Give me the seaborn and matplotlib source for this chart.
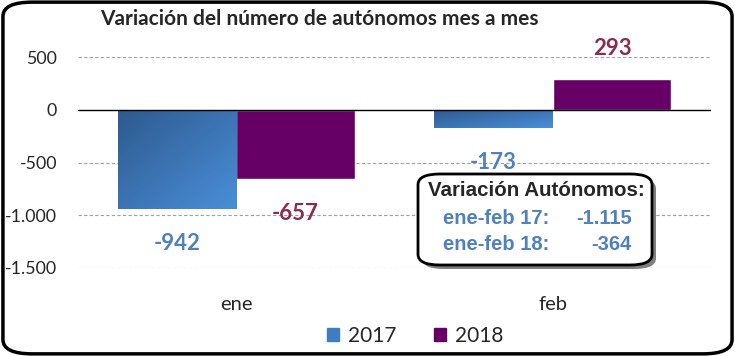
import matplotlib
matplotlib.use("Agg")
import matplotlib.pyplot as plt
import seaborn as sns
import numpy as np
import pandas as pd
from matplotlib.patches import FancyBboxPatch, Rectangle
from matplotlib.colors import LinearSegmentedColormap
from matplotlib import font_manager as fm

months = ["ene", "feb"]
years = ["2017", "2018"]
values_2017 = [-942, -173]
values_2018 = [-657, 293]
yticks = [500, 0, -500, -1000, -1500]
ytick_labels = ["500", "0", "-500", "-1.000", "-1.500"]
title = "Variación del número de autónomos mes a mes"
box_title = "Variación Autónomos:"
box_rows = ["ene-feb 17:", "ene-feb 18:"]
box_values = ["-1.115", "-364"]

sns.set_theme(style="white")
names = {f.name for f in fm.fontManager.ttflist}
main_font = "Lato" if "Lato" in names else "DejaVu Sans"
narrow = "Liberation Sans Narrow" if "Liberation Sans Narrow" in names else "Liberation Sans"
plt.rcParams['font.family'] = [main_font, 'DejaVu Sans']

df = pd.DataFrame({
    "mes": months * 2,
    "año": [years[0]] * 2 + [years[1]] * 2,
    "valor": values_2017 + values_2018,
})

blue = "#3F7CC2"
purple = "#660066"
blue_lbl = "#4F81BD"
purple_lbl = "#8B2C4E"

fig = plt.figure(figsize=(7.35, 3.56), dpi=100)
ax = fig.add_axes([78/735, 1 - 268/356, (711-78)/735, (268-57)/356])

sns.barplot(data=df, x="mes", y="valor", hue="año", palette=[blue, purple],
            width=0.75, ax=ax, legend=False, saturation=1)
ax.set_ylim(-1500, 500)
ax.set_xlim(-0.5, 1.5)

# gradient on 2017 bars
yy, xx = np.mgrid[0:1:50j, 0:1:50j]
grad = (xx + yy) / 2
cmap = LinearSegmentedColormap.from_list("b", ["#2E5A8E", "#4A8ED8"])
for p in ax.containers[0]:
    x0, y0 = p.get_x(), p.get_y()
    w, h = p.get_width(), p.get_height()
    ylo, yhi = min(y0, y0 + h), max(y0, y0 + h)
    im = ax.imshow(grad, cmap=cmap, extent=[x0, x0 + w, ylo, yhi], origin="upper",
                   aspect="auto", zorder=p.get_zorder(), interpolation="bilinear")
    im.set_clip_path(p)
ax.set_xlim(-0.5, 1.5)
ax.set_ylim(-1500, 500)

for y in [500, -500, -1000, -1500]:
    ax.axhline(y, color="#A0A0A0", lw=0.8, ls=(0, (3, 2)), zorder=0)
ax.axhline(0, color="black", lw=1.0, zorder=3)

# value labels
for cont, col in zip(ax.containers, [blue_lbl, purple_lbl]):
    for p in cont:
        v = p.get_height()
        x = p.get_x() + p.get_width() / 2
        off = -25 if v < 0 else 22
        ax.annotate(f"{int(v)}", (x, v), xytext=(0, off), textcoords="offset points",
                    ha="center", va="center", fontsize=16, fontweight="bold",
                    color=col, annotation_clip=False)

ax.set_yticks(yticks)
ax.set_yticklabels(ytick_labels, fontsize=12.8)
ax.tick_params(axis="y", length=0, pad=15)
ax.tick_params(axis="x", length=0, pad=20, labelsize=14.5)
ax.set_xlabel("")
ax.set_ylabel("")
for s in ax.spines.values():
    s.set_visible(False)

fig.text(100/735, 1 - 19/356, title, fontsize=15, fontweight="bold", va="center", ha="left")

handles = [Rectangle((0, 0), 1, 1, color=blue), Rectangle((0, 0), 1, 1, color=purple)]
fig.legend(handles, years, loc="center", bbox_to_anchor=(415/735, 1 - 336/356), ncol=2,
           frameon=False, fontsize=15, handlelength=0.6, handleheight=0.6,
           handletextpad=0.4, columnspacing=1.8)

# annotation box with shadow
bx0, by0, bx1, by1 = 418, 174, 652, 265
def fx(px): return px / 735
def fy(py): return 1 - py / 356
shadow = FancyBboxPatch((fx(bx0 + 4), fy(by1 + 4)), fx(bx1 - bx0), (by1 - by0) / 356,
                        boxstyle="round,pad=0,rounding_size=0.03", transform=fig.transFigure,
                        facecolor="#7F7F7F", edgecolor="none", zorder=5)
box = FancyBboxPatch((fx(bx0), fy(by1)), fx(bx1 - bx0), (by1 - by0) / 356,
                     boxstyle="round,pad=0,rounding_size=0.03", transform=fig.transFigure,
                     facecolor="white", edgecolor="black", lw=2, zorder=6)
fig.patches.extend([shadow, box])
fig.text(fx(536), fy(191), box_title, fontsize=14.8, fontweight="bold", ha="center", va="center",
         family=[narrow, "DejaVu Sans"], zorder=7)
for i, (r, v) in enumerate(zip(box_rows, box_values)):
    yy_ = fy(218 + i * 26)
    fig.text(fx(443), yy_, r, fontsize=14.5, fontweight="bold", ha="left", va="center",
             color=blue_lbl, family=[narrow, "DejaVu Sans"], zorder=7)
    fig.text(fx(632), yy_, v, fontsize=14.5, fontweight="bold", ha="right", va="center",
             color=blue_lbl, family=[narrow, "DejaVu Sans"], zorder=7)

# figure border
border = FancyBboxPatch((0.004, 0.006), 0.992, 0.988, boxstyle="round,pad=0,rounding_size=0.04",
                        transform=fig.transFigure, facecolor="none", edgecolor="black", lw=2.5)
fig.patches.append(border)

fig.savefig("out.png", dpi=100)
